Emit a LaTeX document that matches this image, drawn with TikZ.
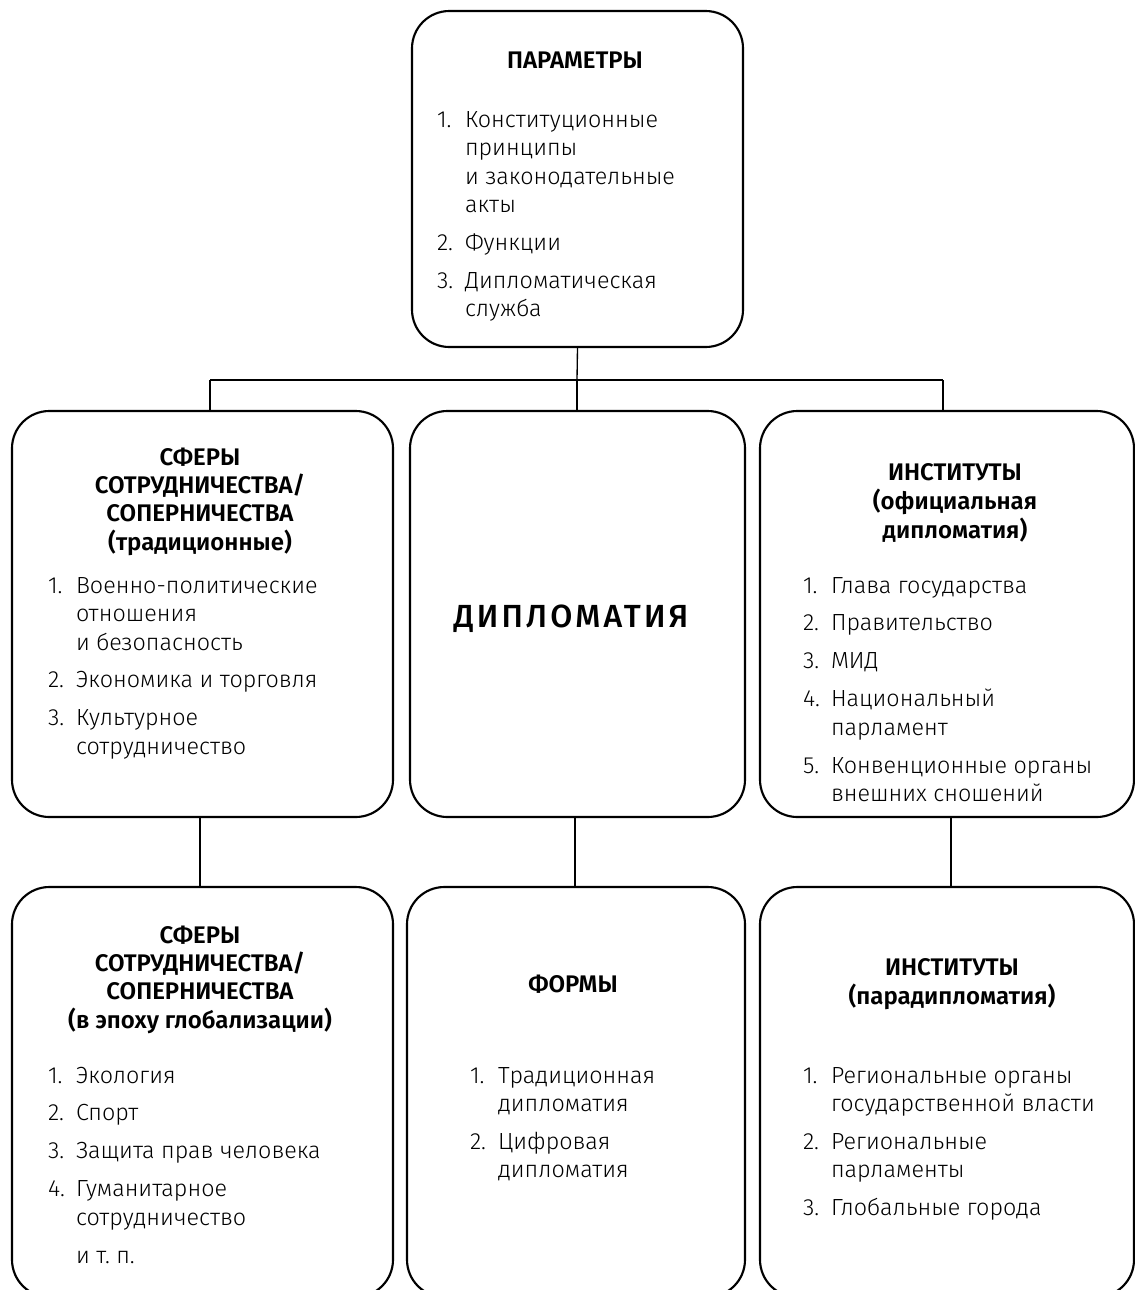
\documentclass[tikz,border=0pt]{standalone}
\usepackage{fontspec}
\IfFontExistsTF{Fira Sans Light}{%
  \IfFontExistsTF{Fira Sans SemiBold}{%
    \setmainfont{Fira Sans Light}[BoldFont={Fira Sans SemiBold}]%
  }{\setmainfont{Fira Sans Light}[BoldFont={Fira Sans Bold}]}%
}{\setmainfont{Fira Sans}}
\IfFontExistsTF{Fira Sans Medium}{%
  \newfontfamily\bigfont{Fira Sans Medium}[LetterSpace=10]%
}{\newfontfamily\bigfont{Fira Sans}[LetterSpace=10]}
\newcommand\bodyfnt{\fontsize{17.5}{21.4}\selectfont}
\newcommand\titlefnt{\fontsize{18}{21.2}\selectfont\bfseries}
\newcommand\ttl[1]{{\titlefnt\begin{tabular}[t]{@{}c@{}}#1\end{tabular}}}
\newcommand\lst[1]{{\bodyfnt\begin{tabular}[t]{@{}l@{}l@{}}#1\end{tabular}}}
\newcommand\nm[1]{\makebox[21pt][l]{#1}}
\tikzset{
  box/.style={draw, line width=1.6pt, rounded corners=28pt, inner sep=0pt},
  conn/.style={line width=1pt},
  txt/.style={inner sep=0pt, outer sep=0pt}
}
\begin{document}
\begin{tikzpicture}[x=0.75pt, y=-0.75pt]
\useasboundingbox (0,0) rectangle (1135,1290);
\clip (0,0) rectangle (1135,1290);
% boxes
\node[box, minimum width={331*0.75pt}, minimum height={336*0.75pt}] (p) at (577.5,179) {};
\node[box, minimum width={381*0.75pt}, minimum height={406*0.75pt}] (l1) at (202.5,614) {};
\node[box, minimum width={335*0.75pt}, minimum height={406*0.75pt}] (m1) at (577.5,614) {};
\node[box, minimum width={374*0.75pt}, minimum height={406*0.75pt}] (r1) at (947,614) {};
\node[box, minimum width={381*0.75pt}, minimum height={410*0.75pt}] (l2) at (202.5,1092) {};
\node[box, minimum width={338*0.75pt}, minimum height={410*0.75pt}] (m2) at (576,1092) {};
\node[box, minimum width={374*0.75pt}, minimum height={410*0.75pt}] (r2) at (947,1092) {};
% connectors
\coordinate (hc) at (577,380);
\coordinate (hl) at (210,380);
\coordinate (hr) at (943,380);
\coordinate (cl) at (200,0);
\coordinate (cm) at (575,0);
\coordinate (cr) at (951,0);
\draw[conn] (p.south) -- (hc);
\draw[conn] (hl) -- (hr);
\draw[conn] (hl) -- (hl |- l1.north);
\draw[conn] (hc) -- (hc |- m1.north);
\draw[conn] (hr) -- (hr |- r1.north);
\draw[conn] (cl |- l1.south) -- (cl |- l2.north);
\draw[conn] (cm |- m1.south) -- (cm |- m2.north);
\draw[conn] (cr |- r1.south) -- (cr |- r2.north);
% titles
\node[txt, anchor=base] (pt) at (575,68) {\ttl{ПАРАМЕТРЫ}};
\node[txt, anchor=base] (l1t) at (200,465) {\ttl{СФЕРЫ\\СОТРУДНИЧЕСТВА/\\СОПЕРНИЧЕСТВА\\(традиционные)}};
\node[txt, anchor=base] (r1t) at (955,480) {\ttl{ИНСТИТУТЫ\\(официальная\\дипломатия)}};
\node[txt, anchor=base] (l2t) at (200,943) {\ttl{СФЕРЫ\\СОТРУДНИЧЕСТВА/\\СОПЕРНИЧЕСТВА\\(в эпоху глобализации)}};
\node[txt, anchor=base] (m2t) at (573,992) {\ttl{ФОРМЫ}};
\node[txt, anchor=base] (r2t) at (952,975) {\ttl{ИНСТИТУТЫ\\(парадипломатия)}};
\node[txt, anchor=base] (mt) at (571,627) {\bigfont\fontsize{24}{28}\selectfont ДИПЛОМАТИЯ};
% lists
\node[txt, anchor=base west] (pl) at (437,127) {\lst{%
\nm{1.} & Конституционные\\ & принципы\\ & и законодательные\\ & акты\\[7pt]
\nm{2.} & Функции\\[7pt]
\nm{3.} & Дипломатическая\\ & служба}};
\node[txt, anchor=base west] (l1l) at (48,593) {\lst{%
\nm{1.} & Военно-политические\\ & отношения\\ & и безопасность\\[7pt]
\nm{2.} & Экономика и торговля\\[7pt]
\nm{3.} & Культурное\\ & сотрудничество}};
\node[txt, anchor=base west] (r1l) at (803,593) {\lst{%
\nm{1.} & Глава государства\\[7pt]
\nm{2.} & Правительство\\[7pt]
\nm{3.} & МИД\\[7pt]
\nm{4.} & Национальный\\ & парламент\\[7pt]
\nm{5.} & Конвенционные органы\\ & внешних сношений}};
\node[txt, anchor=base west] (l2l) at (48,1083) {\lst{%
\nm{1.} & Экология\\[7pt]
\nm{2.} & Спорт\\[7pt]
\nm{3.} & Защита прав человека\\[7pt]
\nm{4.} & Гуманитарное\\ & сотрудничество\\[7pt]
 & и т.~п.}};
\node[txt, anchor=base west] (m2l) at (470,1083) {\lst{%
\nm{1.} & Традиционная\\ & дипломатия\\[7pt]
\nm{2.} & Цифровая\\ & дипломатия}};
\node[txt, anchor=base west] (r2l) at (803,1083) {\lst{%
\nm{1.} & Региональные органы\\ & государственной власти\\[7pt]
\nm{2.} & Региональные\\ & парламенты\\[7pt]
\nm{3.} & Глобальные города}};
\end{tikzpicture}
\end{document}
